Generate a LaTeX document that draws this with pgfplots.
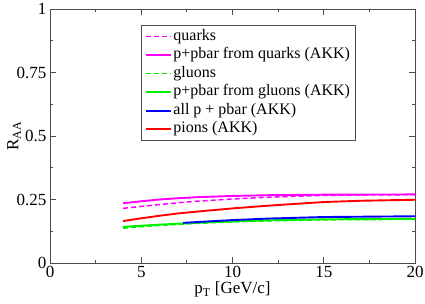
\documentclass[border=0pt]{standalone}
\usepackage{pgfplots}
\pgfplotsset{compat=1.18}
\usepackage{fontspec}
\setmainfont{Liberation Serif}
\definecolor{mymag}{RGB}{255,0,255}
\definecolor{mygreen}{RGB}{0,240,0}
\definecolor{myblue}{RGB}{0,0,255}
\definecolor{myred}{RGB}{255,0,0}
\begin{document}
\begin{tikzpicture}
\begin{axis}[
  name=ax,
  scale only axis,
  width=365pt, height=254pt,
  xmin=0, xmax=20, ymin=0, ymax=1,
  xtick={0,5,10,15,20},
  ytick={0,0.25,0.5,0.75,1},
  yticklabels={0,0.25,0.5,0.75,1},
  minor x tick num=1, minor y tick num=1,
  tick align=inside,
  major tick length=6pt, minor tick length=3pt,
  axis line style={draw=black!70, line width=0.9pt},
  every tick/.style={black!70, line width=0.8pt},
  /pgf/number format/assume math mode=true,
  ticklabel style={font=\fontsize{17pt}{20pt}\selectfont},
  xlabel={p\textsubscript{T} [GeV/c]},
  ylabel={R\textsubscript{AA}},
  label style={font=\fontsize{17pt}{20pt}\selectfont},
  xlabel style={yshift=3pt},
  ylabel style={yshift=-11pt},
  legend style={at={(rel axis cs:0.25,0.937)}, anchor=north west,
    draw=black!70, line width=0.6pt, font=\fontsize{16pt}{18pt}\selectfont,
    inner xsep=3pt, inner ysep=2pt, row sep=0pt,
    nodes={inner xsep=2pt, inner ysep=1pt, text height=12pt, text depth=4.5pt}},
  legend cell align=left,
  legend image code/.code={\draw[#1] (0pt,0pt) -- (25pt,0pt);},
]
\addplot[color=mymag, line width=1.5pt, dash pattern=on 5pt off 3pt] coordinates {(4,0.215)(5,0.223)(6,0.230)(7,0.237)(8,0.243)(10,0.252)(12,0.259)(15,0.266)(17,0.268)(20,0.269)};
\addlegendentry{quarks}
\addplot[color=mymag, line width=1.9pt] coordinates {(4,0.235)(5,0.243)(6,0.250)(7,0.255)(8,0.259)(10,0.264)(12,0.267)(15,0.269)(20,0.270)};
\addlegendentry{p+pbar from quarks (AKK)}
\addplot[color=mygreen, line width=1.5pt, dash pattern=on 5pt off 3pt] coordinates {(4,0.137)(5,0.143)(6,0.148)(7,0.152)(8,0.156)(10,0.162)(12,0.166)(15,0.170)(20,0.172)};
\addlegendentry{gluons}
\addplot[color=mygreen, line width=1.9pt] coordinates {(4,0.142)(5,0.147)(6,0.151)(7,0.155)(8,0.158)(10,0.164)(12,0.168)(15,0.172)(20,0.174)};
\addlegendentry{p+pbar from gluons (AKK)}
\addplot[color=myblue, line width=1.9pt] coordinates {(7.3,0.158)(8,0.161)(10,0.169)(12,0.175)(15,0.181)(20,0.184)};
\addlegendentry{all p + pbar (AKK)}
\addplot[color=myred, line width=1.9pt] coordinates {(4,0.165)(5,0.176)(6,0.186)(7,0.195)(8,0.202)(10,0.215)(12,0.226)(15,0.240)(17,0.245)(20,0.249)};
\addlegendentry{pions (AKK)}
\end{axis}
\pgfresetboundingbox
\useasboundingbox ([xshift=-50pt,yshift=-40pt]ax.south west) rectangle ([xshift=10pt,yshift=9pt]ax.north east);
\end{tikzpicture}
\end{document}
